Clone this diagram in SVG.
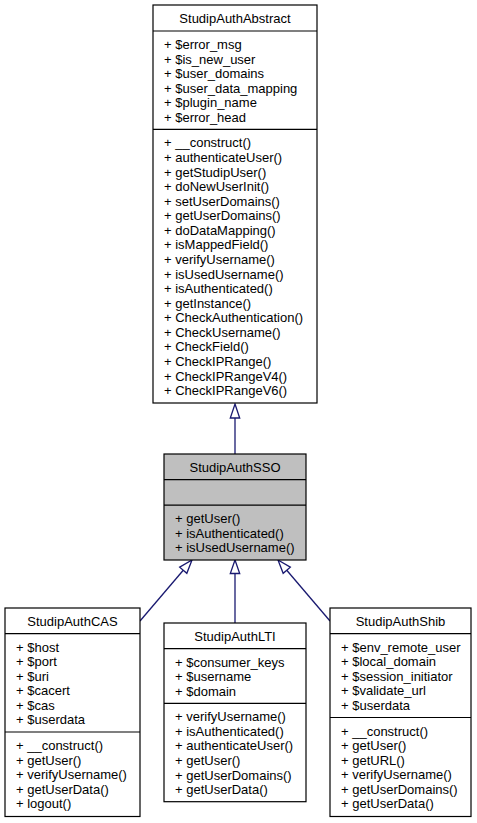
<svg xmlns="http://www.w3.org/2000/svg" width="477" height="823" viewBox="0 0 477 823">
<style>
.bg{fill:#ffffff}
.box{fill:#ffffff;stroke:#000000;stroke-width:1.2}
.cur{fill:#bfbfbf;stroke:#000000;stroke-width:1.2}
.sep{stroke:#000000;stroke-width:1.2}
text{font-family:"Liberation Sans",Arial,Helvetica,sans-serif;font-size:13px;fill:#000000}
.t{text-anchor:middle}
.edge{stroke:#191970;stroke-width:1.3;fill:none}
.head{fill:#ffffff;stroke:#191970;stroke-width:1.3}
</style>
<rect class="bg" x="0" y="0" width="477" height="823"/>
<g id="connectors">
<line class="edge" x1="235" y1="454" x2="235" y2="418"/>
<polygon class="head" points="235,404 239.7,418 230.3,418"/>
<line class="edge" x1="140" y1="621" x2="183.25" y2="570.27"/>
<polygon class="head" points="192,560 186.83,573.32 179.67,567.22"/>
<line class="edge" x1="235" y1="623" x2="235" y2="573.5"/>
<polygon class="head" points="235,560 239.7,573.5 230.3,573.5"/>
<line class="edge" x1="330" y1="621" x2="286.75" y2="570.27"/>
<polygon class="head" points="278,560 290.33,567.22 283.17,573.32"/>
</g>
<g id="StudipAuthAbstract">
<rect class="box" x="153" y="5" width="164" height="398"/>
<line class="sep" x1="153" y1="31" x2="317" y2="31"/>
<line class="sep" x1="153" y1="129.4" x2="317" y2="129.4"/>
<text class="t" x="235" y="22.5">StudipAuthAbstract</text>
<text x="164" y="49"><tspan x="164">+ $error_msg</tspan><tspan x="164" dy="14.57">+ $is_new_user</tspan><tspan x="164" dy="14.57">+ $user_domains</tspan><tspan x="164" dy="14.57">+ $user_data_mapping</tspan><tspan x="164" dy="14.57">+ $plugin_name</tspan><tspan x="164" dy="14.57">+ $error_head</tspan></text>
<text x="164" y="147.4"><tspan x="164">+ __construct()</tspan><tspan x="164" dy="14.57">+ authenticateUser()</tspan><tspan x="164" dy="14.57">+ getStudipUser()</tspan><tspan x="164" dy="14.57">+ doNewUserInit()</tspan><tspan x="164" dy="14.57">+ setUserDomains()</tspan><tspan x="164" dy="14.57">+ getUserDomains()</tspan><tspan x="164" dy="14.57">+ doDataMapping()</tspan><tspan x="164" dy="14.57">+ isMappedField()</tspan><tspan x="164" dy="14.57">+ verifyUsername()</tspan><tspan x="164" dy="14.57">+ isUsedUsername()</tspan><tspan x="164" dy="14.57">+ isAuthenticated()</tspan><tspan x="164" dy="14.57">+ getInstance()</tspan><tspan x="164" dy="14.57">+ CheckAuthentication()</tspan><tspan x="164" dy="14.57">+ CheckUsername()</tspan><tspan x="164" dy="14.57">+ CheckField()</tspan><tspan x="164" dy="14.57">+ CheckIPRange()</tspan><tspan x="164" dy="14.57">+ CheckIPRangeV4()</tspan><tspan x="164" dy="14.57">+ CheckIPRangeV6()</tspan></text>
</g>
<g id="StudipAuthSSO">
<rect class="cur" x="164" y="454" width="142" height="106"/>
<line class="sep" x1="164" y1="479.6" x2="306" y2="479.6"/>
<line class="sep" x1="164" y1="505.1" x2="306" y2="505.1"/>
<text class="t" x="235" y="471.5">StudipAuthSSO</text>
<text x="175" y="523.1"><tspan x="175">+ getUser()</tspan><tspan x="175" dy="14.57">+ isAuthenticated()</tspan><tspan x="175" dy="14.57">+ isUsedUsername()</tspan></text>
</g>
<g id="StudipAuthCAS">
<rect class="box" x="5" y="608" width="135" height="208.5"/>
<line class="sep" x1="5" y1="633.6" x2="140" y2="633.6"/>
<line class="sep" x1="5" y1="732" x2="140" y2="732"/>
<text class="t" x="72.5" y="625.5">StudipAuthCAS</text>
<text x="16" y="651.6"><tspan x="16">+ $host</tspan><tspan x="16" dy="14.57">+ $port</tspan><tspan x="16" dy="14.57">+ $uri</tspan><tspan x="16" dy="14.57">+ $cacert</tspan><tspan x="16" dy="14.57">+ $cas</tspan><tspan x="16" dy="14.57">+ $userdata</tspan></text>
<text x="16" y="750"><tspan x="16">+ __construct()</tspan><tspan x="16" dy="14.57">+ getUser()</tspan><tspan x="16" dy="14.57">+ verifyUsername()</tspan><tspan x="16" dy="14.57">+ getUserData()</tspan><tspan x="16" dy="14.57">+ logout()</tspan></text>
</g>
<g id="StudipAuthLTI">
<rect class="box" x="164" y="623" width="142" height="178.7"/>
<line class="sep" x1="164" y1="648.6" x2="306" y2="648.6"/>
<line class="sep" x1="164" y1="703.3" x2="306" y2="703.3"/>
<text class="t" x="235" y="640.5">StudipAuthLTI</text>
<text x="175" y="666.6"><tspan x="175">+ $consumer_keys</tspan><tspan x="175" dy="14.57">+ $username</tspan><tspan x="175" dy="14.57">+ $domain</tspan></text>
<text x="175" y="721.3"><tspan x="175">+ verifyUsername()</tspan><tspan x="175" dy="14.57">+ isAuthenticated()</tspan><tspan x="175" dy="14.57">+ authenticateUser()</tspan><tspan x="175" dy="14.57">+ getUser()</tspan><tspan x="175" dy="14.57">+ getUserDomains()</tspan><tspan x="175" dy="14.57">+ getUserData()</tspan></text>
</g>
<g id="StudipAuthShib">
<rect class="box" x="330" y="608" width="141" height="208.5"/>
<line class="sep" x1="330" y1="633.6" x2="471" y2="633.6"/>
<line class="sep" x1="330" y1="717.5" x2="471" y2="717.5"/>
<text class="t" x="400.5" y="625.5">StudipAuthShib</text>
<text x="341" y="651.6"><tspan x="341">+ $env_remote_user</tspan><tspan x="341" dy="14.57">+ $local_domain</tspan><tspan x="341" dy="14.57">+ $session_initiator</tspan><tspan x="341" dy="14.57">+ $validate_url</tspan><tspan x="341" dy="14.57">+ $userdata</tspan></text>
<text x="341" y="735.5"><tspan x="341">+ __construct()</tspan><tspan x="341" dy="14.57">+ getUser()</tspan><tspan x="341" dy="14.57">+ getURL()</tspan><tspan x="341" dy="14.57">+ verifyUsername()</tspan><tspan x="341" dy="14.57">+ getUserDomains()</tspan><tspan x="341" dy="14.57">+ getUserData()</tspan></text>
</g>
</svg>
